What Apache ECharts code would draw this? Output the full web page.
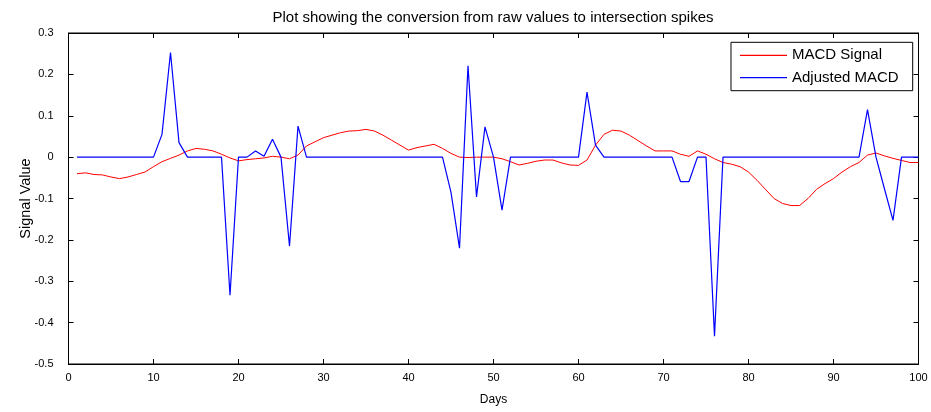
<!DOCTYPE html>
<html>
<head>
<meta charset="utf-8">
<script src="https://cdn.jsdelivr.net/npm/echarts@6/dist/echarts.min.js"></script>
<style>
html,body{margin:0;padding:0;background:#fff;}
#chart{width:931px;height:412px;}
</style>
</head>
<body>
<div id="chart"></div>
<script>
var titleText = 'Plot showing the conversion from raw values to intersection spikes';
var seriesNames = ['MACD Signal', 'Adjusted MACD'];
var days = [1,2,3,4,5,6,7,8,9,10,11,12,13,14,15,16,17,18,19,20,21,22,23,24,25,26,27,28,29,30,31,32,33,34,35,36,37,38,39,40,41,42,43,44,45,46,47,48,49,50,51,52,53,54,55,56,57,58,59,60,61,62,63,64,65,66,67,68,69,70,71,72,73,74,75,76,77,78,79,80,81,82,83,84,85,86,87,88,89,90,91,92,93,94,95,96,97,98,99,100];
var macdSignal = [
 -0.040,-0.038,-0.042,-0.043,-0.048,-0.052,-0.048,-0.042,-0.036,-0.023,
 -0.011,-0.003,0.005,0.015,0.021,0.019,0.015,0.007,-0.002,-0.009,
 -0.006,-0.004,-0.002,0.002,0.000,-0.004,0.005,0.027,0.037,0.047,
 0.053,0.059,0.063,0.064,0.067,0.063,0.053,0.041,0.029,0.017,
 0.023,0.027,0.031,0.021,0.009,0.000,-0.001,0.000,0.000,0.000,
 -0.004,-0.011,-0.019,-0.015,-0.010,-0.007,-0.007,-0.014,-0.019,-0.020,
 -0.007,0.029,0.055,0.065,0.063,0.053,0.040,0.027,0.015,0.015,
 0.015,0.007,0.002,0.015,0.007,-0.004,-0.013,-0.017,-0.023,-0.036,
 -0.056,-0.078,-0.100,-0.112,-0.117,-0.117,-0.100,-0.078,-0.064,-0.052,
 -0.036,-0.023,-0.013,0.005,0.010,0.003,-0.003,-0.008,-0.013,-0.013
];
var adjustedMacd = [
 0,0,0,0,0,0,0,0,0,0,
 0.055,0.253,0.035,0,0,0,0,0,-0.334,0,
 0,0.015,0.002,0.043,0,-0.215,0.075,0,0,0,
 0,0,0,0,0,0,0,0,0,0,
 0,0,0,0,-0.085,-0.220,0.221,-0.096,0.073,0,
 -0.128,0,0,0,0,0,0,0,0,0,
 0.157,0.029,0,0,0,0,0,0,0,0,
 0,-0.059,-0.059,0,0,-0.433,0,0,0,0,
 0,0,0,0,0,0,0,0,0,0,
 0,0,0,0.115,0,-0.077,-0.153,0,0,0
];
var xTicks = {min:0, max:100, interval:10};
var yTicks = {min:-0.5, max:0.3, interval:0.1};

function pairs(vals){ return days.map(function(d,i){ return [d, vals[i]]; }); }

var FONT = 'Liberation Sans';
var chart = echarts.init(document.getElementById('chart'));
var tickStyle = {show:true, inside:true, length:5, lineStyle:{color:'#000', width:1}};
var lineAx = {show:true, onZero:false, lineStyle:{color:'#000', width:1}};
chart.setOption({
  animation:false,
  backgroundColor:'#fff',
  textStyle:{fontFamily:FONT},
  title:{text:titleText, left:493, textAlign:'center', top:10, padding:0,
    textStyle:{fontFamily:FONT, fontSize:15, fontWeight:'normal', color:'#000'}},
  grid:{left:68.5, right:12.5, top:33, bottom:48, show:true, borderColor:'#000', borderWidth:1, backgroundColor:'#fff'},
  legend:{
    data:seriesNames, orient:'vertical', right:18.3, top:42.3,
    icon:'rect', itemWidth:47, itemHeight:1.2, itemGap:7.4,
    padding:[5.5,14,5.5,9], borderColor:'#000', borderWidth:1, backgroundColor:'#fff',
    textStyle:{fontFamily:FONT, fontSize:15, lineHeight:15, color:'#000'}
  },
  xAxis:[
    {type:'value', min:xTicks.min, max:xTicks.max, interval:xTicks.interval, position:'bottom',
     name:'Days', nameLocation:'middle', nameGap:30, nameMoveOverlap:false,
     nameTextStyle:{fontFamily:FONT, fontSize:12, color:'#000'},
     axisLine:lineAx, axisTick:tickStyle, splitLine:{show:false},
     axisLabel:{fontFamily:FONT, fontSize:11, color:'#000', margin:8}},
    {type:'value', min:xTicks.min, max:xTicks.max, interval:xTicks.interval, position:'top',
     axisLine:lineAx, axisTick:tickStyle, splitLine:{show:false}, axisLabel:{show:false}}
  ],
  yAxis:[
    {type:'value', min:yTicks.min, max:yTicks.max, interval:yTicks.interval, position:'left',
     name:'Signal Value', nameLocation:'middle', nameGap:35, nameRotate:90, nameMoveOverlap:false,
     nameTextStyle:{fontFamily:FONT, fontSize:14.5, color:'#000'},
     axisLine:lineAx, axisTick:tickStyle, splitLine:{show:false},
     axisLabel:{fontFamily:FONT, fontSize:11, color:'#000', margin:15,
       formatter:function(v){ return String(Math.round(v*10)/10); }}},
    {type:'value', min:yTicks.min, max:yTicks.max, interval:yTicks.interval, position:'right',
     axisLine:lineAx, axisTick:tickStyle, splitLine:{show:false}, axisLabel:{show:false}}
  ],
  series:[
    {name:seriesNames[0], type:'line', data:pairs(macdSignal), symbol:'none',
     lineStyle:{color:'#ff0000', width:1}, itemStyle:{color:'#ff0000'}},
    {name:seriesNames[1], type:'line', data:pairs(adjustedMacd), symbol:'none',
     lineStyle:{color:'#0000ff', width:1.2}, itemStyle:{color:'#0000ff'}}
  ]
});
</script>
</body>
</html>
